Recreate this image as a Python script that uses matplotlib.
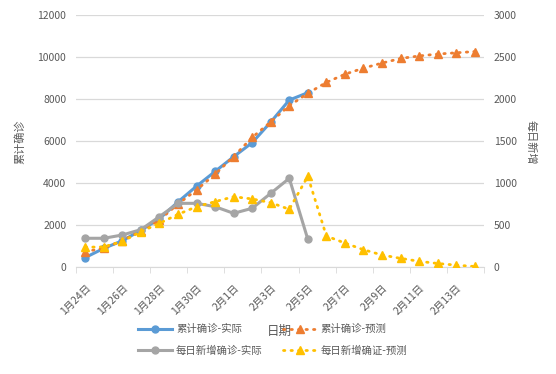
import numpy as np
import matplotlib
matplotlib.use('Agg')
import matplotlib.pyplot as plt

plt.rcParams['font.family'] = ['Noto Sans CJK SC', 'DejaVu Sans']

dates = ['1月24日', '1月25日', '1月26日', '1月27日', '1月28日', '1月29日', '1月30日',
         '1月31日', '2月1日', '2月2日', '2月3日', '2月4日', '2月5日', '2月6日',
         '2月7日', '2月8日', '2月9日', '2月10日', '2月11日', '2月12日', '2月13日', '2月14日']

# cumulative (left axis)
cum_actual = [450, 890, 1250, 1750, 2300, 3100, 3850, 4550, 5250, 5920, 6900, 7950, 8300]
cum_pred = [730, 900, 1250, 1720, 2240, 3000, 3670, 4420, 5260, 6170, 6910, 7680, 8270,
            8790, 9180, 9470, 9710, 9930, 10050, 10140, 10200, 10260]

# daily new (right axis)
daily_actual = [342, 342, 381, 445, 600, 758, 758, 718, 639, 699, 877, 1056, 330]
daily_pred = [235, 240, 305, 420, 520, 627, 718, 778, 837, 810, 766, 687, 1080,
              369, 285, 206, 143, 103, 68, 42, 22, 6]

blue = '#5B9BD5'
orange = '#ED7D31'
grey = '#A5A5A5'
yellow = '#FFC000'
txt = '#595959'

x = np.arange(len(dates))

fig = plt.figure(figsize=(5.56, 3.74), dpi=100)
ax = fig.add_axes([76/556, 1-267/374, 408/556, 252/374])
ax2 = ax.twinx()

ax.set_ylim(0, 12000)
ax2.set_ylim(0, 3000)
ax.set_yticks(np.arange(0, 12001, 2000))
ax2.set_yticks(np.arange(0, 3001, 500))
ax.grid(axis='y', color='#D9D9D9', lw=0.9)
ax.set_axisbelow(True)
ax.set_xlim(-0.5, len(dates) - 0.5)

l1, = ax.plot(x[:len(cum_actual)], cum_actual, color=blue, lw=2.2, marker='o', ms=5,
              label='累计确诊-实际', zorder=3)
l2, = ax.plot(x, cum_pred, color=orange, lw=2.0, ls=(0, (0.5, 2.2)), dash_capstyle='round',
              marker='^', ms=6, label='累计确诊-预测', zorder=4)
l3, = ax2.plot(x[:len(daily_actual)], daily_actual, color=grey, lw=2.2, marker='o', ms=5,
               label='每日新增确诊-实际', zorder=3)
l4, = ax2.plot(x, daily_pred, color=yellow, lw=2.0, ls=(0, (0.5, 2.2)), dash_capstyle='round',
               marker='^', ms=6, label='每日新增确证-预测', zorder=4)

for a in (ax, ax2):
    for s in ('top', 'left', 'right'):
        a.spines[s].set_visible(False)
    a.tick_params(axis='y', length=0, labelsize=7.5, labelcolor=txt, pad=7)
ax.spines['bottom'].set_color('#D9D9D9')
ax2.spines['bottom'].set_visible(False)

ax.set_xticks(x[::2])
ax.set_xticklabels(dates[::2], rotation=45, ha='right', rotation_mode='anchor')
ax.tick_params(axis='x', length=0, labelsize=7.5, labelcolor=txt, pad=11)
ax.set_xticks(np.arange(-0.5, len(dates), 2), minor=True)
ax.tick_params(axis='x', which='minor', length=4, color='#D9D9D9')

fig.text(20/556, 1-142/374, '累计确诊', rotation=90, ha='center', va='center',
         fontsize=8, color=txt)
fig.text(531/556, 1-142/374, '每日新增', rotation=270, ha='center', va='center',
         fontsize=8, color=txt)
fig.text(279/556, 1-331/374, '日期', ha='center', va='center', fontsize=9, color=txt)

fig.legend(handles=[l1, l3, l2, l4], ncol=2, loc='center', bbox_to_anchor=(273/556, 1-340/374),
           frameon=False, fontsize=7.5, labelcolor=txt, handlelength=3.2, columnspacing=2.0,
           handletextpad=0.4, labelspacing=1.1)

fig.savefig('out.png', dpi=100)
